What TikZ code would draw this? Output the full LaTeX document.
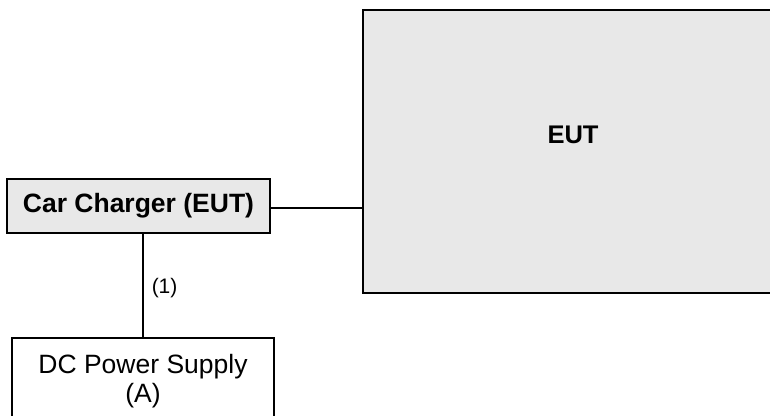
\documentclass[tikz,border=0pt]{standalone}
\usepackage{fontspec}
\setmainfont{Liberation Sans}
\definecolor{boxgray}{HTML}{E8E8E8}
\begin{document}
\begin{tikzpicture}[x=1pt,y=-1pt,
  box/.style={draw=black, line width=1.6pt, rectangle, inner sep=0pt},
  graybox/.style={box, fill=boxgray},
  wire/.style={draw=black, line width=1.5pt},
  big/.style={font=\fontsize{26.5}{28.5}\selectfont},
  bigb/.style={font=\fontsize{26.5}{28.5}\selectfont\bfseries}]
\useasboundingbox (0,0) rectangle (770,415);
\clip (0,0) rectangle (770,415);
\node[graybox, bigb, minimum width=263, minimum height=54] (cc) at (138.5,206) {Car Charger (EUT)};
\node[graybox, minimum width=420, minimum height=283,
  label={[font=\fontsize{25.5}{28}\selectfont\bfseries, yshift=16.5pt]center:EUT}] (eut) at (573,151.5) {};
\node[box, big, align=center, minimum width=262, minimum height=86] (dc) at (143,381) {DC Power Supply\\(A)};
\draw[wire] (cc.east |- 0,208) -- (eut.west |- 0,208);
\draw[wire] (dc.north |- cc.south) -- node[pos=0.52, right, inner sep=0pt, xshift=8pt, font=\fontsize{21}{23}\selectfont] (lbl) {(1)} (dc.north);
\end{tikzpicture}
\end{document}
